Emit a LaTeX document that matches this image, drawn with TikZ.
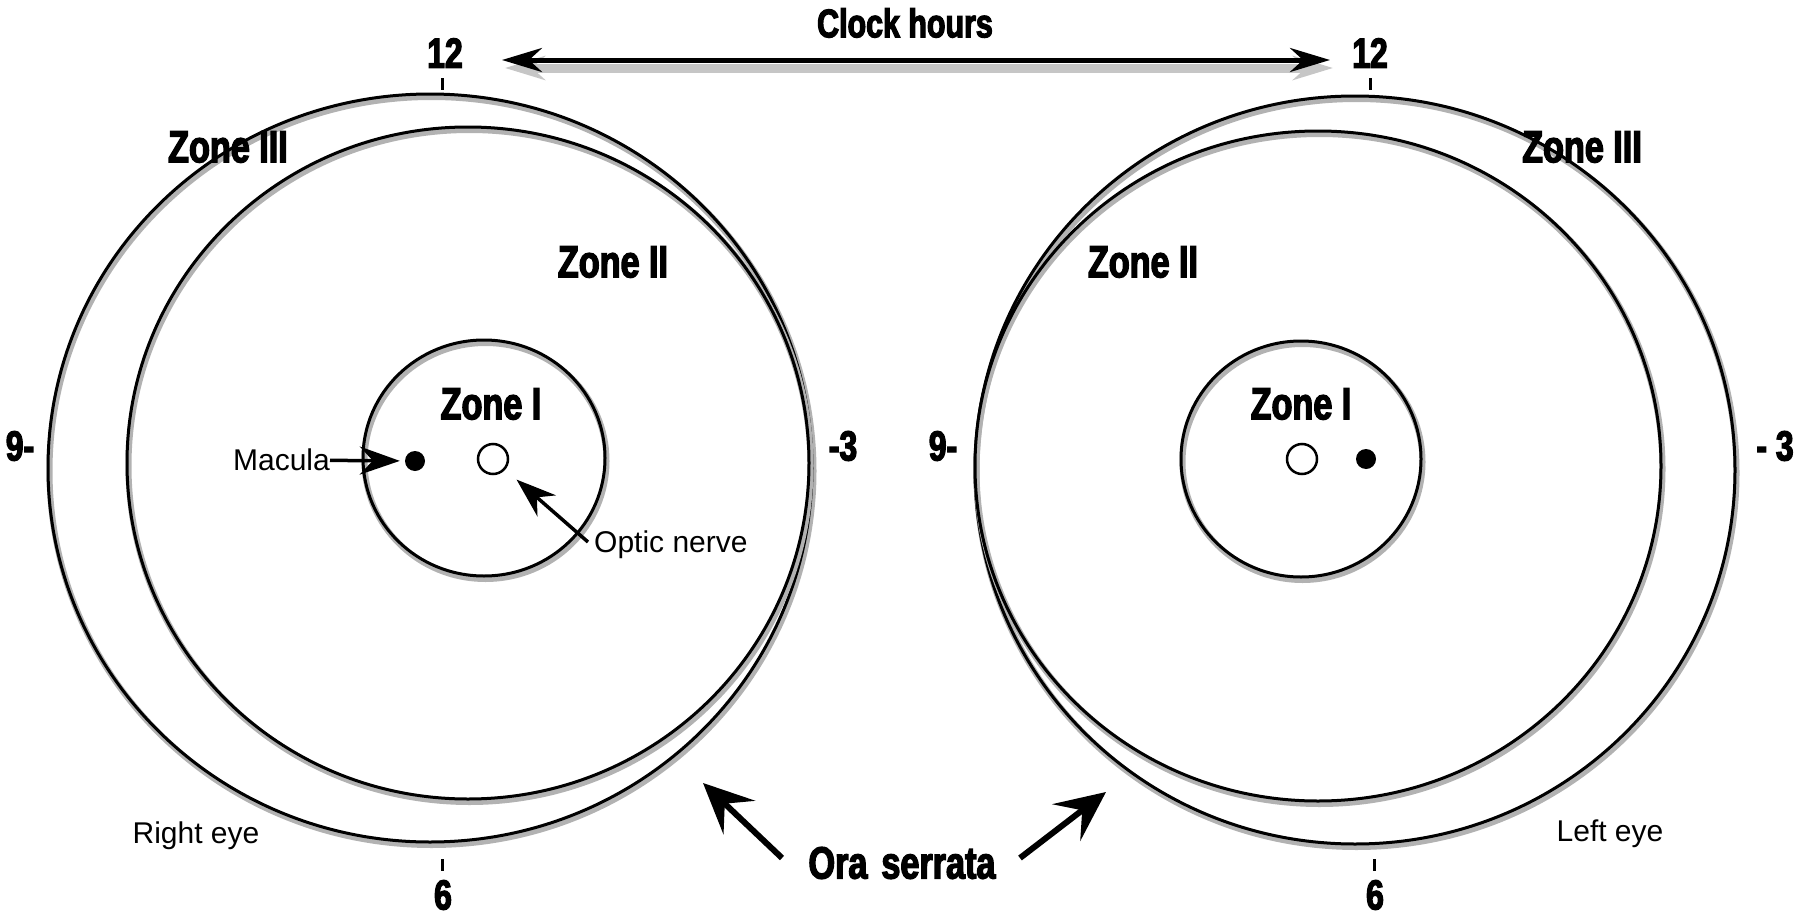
\documentclass[tikz,border=0pt]{standalone}
\usepackage{fontspec}
\setmainfont{Liberation Sans}
\newfontfamily\impact[FakeStretch=0.76,FakeBold=3]{Liberation Sans}
\usetikzlibrary{arrows.meta,positioning}

\begin{document}
\begin{tikzpicture}[x=1pt,y=-1pt,
  ring/.style={line width=3pt, preaction={draw=gray!60, line width=6pt, transform canvas={shift={(1.5,3)}}}},
  zone/.style={font=\impact\bfseries\fontsize{45}{50}\selectfont, inner sep=0pt},
  hour/.style={font=\impact\bfseries\fontsize{42}{46}\selectfont, inner sep=0pt},
  lbl/.style={font=\fontsize{30}{33}\selectfont, inner sep=0pt},
  tick/.style={line width=3pt},
  spot/.style={circle, draw, line width=2.5pt, minimum size=30pt, inner sep=0pt},
  fovea/.style={circle, fill, minimum size=20pt, inner sep=0pt},
  arr/.style={-{Stealth[length=40pt,width=28pt,inset=13pt]}, line width=3.5pt},
  bigarr/.style={-{Stealth[length=50pt,width=46pt,inset=20pt]}, line width=6pt},
  clk/.style={{Stealth[length=40pt,width=24pt,inset=13pt]}-{Stealth[length=40pt,width=24pt,inset=13pt]}, line width=5pt,
    preaction={draw=gray!45, line width=9pt, transform canvas={shift={(3,8)}}}}
]
\useasboundingbox (0,0) rectangle (1800,918);
% --- right eye (left drawing) ---
\coordinate (cR3) at (430,468);
\coordinate (cR2) at (468,463);
\coordinate (cR1) at (484,458);
\draw[ring] (cR3) ellipse [x radius=382, y radius=374];
\draw[ring] (cR2) ellipse [x radius=341, y radius=336];
\draw[ring] (cR1) ellipse [x radius=121, y radius=118];
\node[fovea] (macR) at (415,461) {};
\node[spot]  (onR)  at (493,459) {};
\node[zone] (z3R) at (228,147) {Zone III};
\node[zone] (z2R) at (613,262) {Zone II};
\node[zone] (z1R) at (491,404) {Zone I};
\node[hour] (h12R) at (445,53)  {12};
\node[hour] (h9R)  at (20,446)  {9-};
\node[hour] (h3R)  at (843,446) {-3};
\node[hour] (h6R)  at (443,895) {6};
\draw[tick] (442,78) -- (442,90);
\draw[tick] (442,859) -- (442,871);
\node[lbl, anchor=east] (macTxtR) at (330,460) {Macula};
\node[lbl, anchor=west] (onTxtR) at (594,545) {Optic nerve};
\node[lbl] (eyeR) at (196,836) {Right eye};
\coordinate (onTail) at (588,542);
\draw[arr, shorten >=5pt] (macTxtR) -- (macR);
\draw[arr, shorten >=15pt] (onTail) -- (onR);
% --- left eye (right drawing) ---
\coordinate (cL3) at (1355,470);
\coordinate (cL2) at (1318,466);
\coordinate (cL1) at (1301,459);
\draw[ring] (cL3) ellipse [x radius=380, y radius=374];
\draw[ring] (cL2) ellipse [x radius=343, y radius=335];
\draw[ring] (cL1) ellipse [x radius=120, y radius=118];
\node[spot]  (onL)  at (1302,459) {};
\node[fovea] (macL) at (1366,459) {};
\node[zone] (z3L) at (1582,147) {Zone III};
\node[zone] (z2L) at (1143,262) {Zone II};
\node[zone] (z1L) at (1301,404) {Zone I};
\node[hour] (h12L) at (1370,53)  {12};
\node[hour] (h9L)  at (943,446)  {9-};
\node[hour] (h3L)  at (1775,446) {- 3};
\node[hour] (h6L)  at (1375,895) {6};
\draw[tick] (1370,78) -- (1370,90);
\draw[tick] (1374,859) -- (1374,871);
\node[lbl] (eyeL) at (1610,834) {Left eye};
% --- clock hours and ora serrata ---
\node[hour, font=\impact\bfseries\fontsize{40}{44}\selectfont] (clock) at (905,23) {Clock hours};
\coordinate (clkL) at (502,60);
\coordinate (clkR) at (1330,60);
\draw[clk] (clkL) -- (clkR);
\node[zone] (ora) at (902,863) {Ora\hspace{14pt}serrata};
\coordinate (oraTailL) at (782,858);
\coordinate (oraTipL)  at (703,783);
\coordinate (oraTailR) at (1020,858);
\coordinate (oraTipR)  at (1106,792);
\draw[bigarr] (oraTailL) -- (oraTipL);
\draw[bigarr] (oraTailR) -- (oraTipR);
\end{tikzpicture}
\end{document}
